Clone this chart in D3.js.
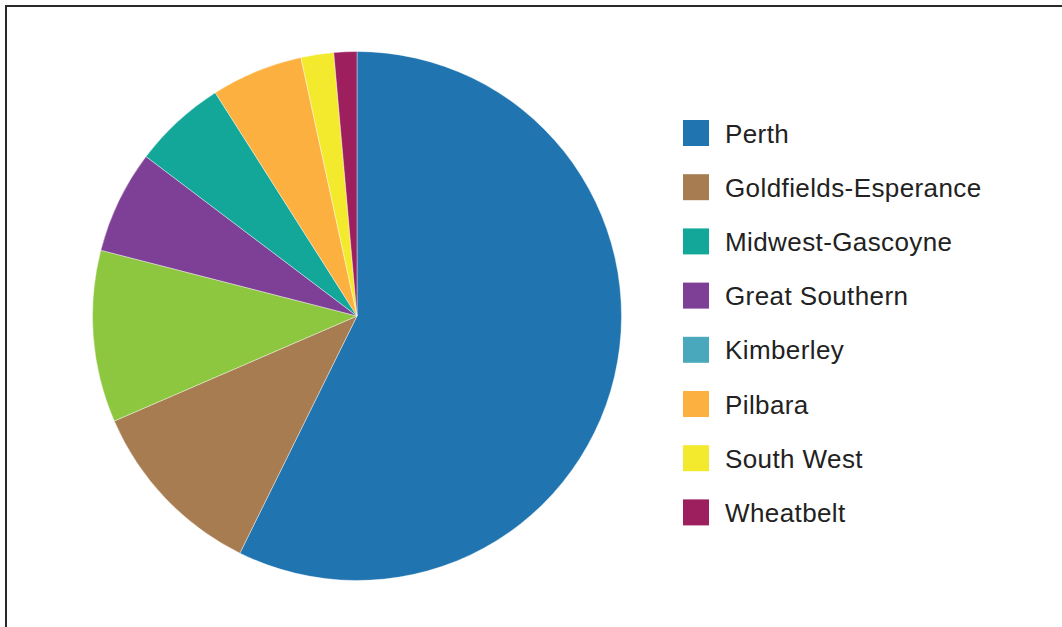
<!DOCTYPE html>
<html>
<head>
<meta charset="utf-8">
<script src="https://cdn.jsdelivr.net/npm/d3@7"></script>
<style>
  html, body { margin: 0; padding: 0; background: #fff; overflow: hidden; }
  svg { display: block; }
</style>
</head>
<body>
<svg id="chart" width="1062" height="627"></svg>
<script>
// Pie slices (clockwise from 12 o'clock), percent share
const sliceNames = ["Perth", "Goldfields-Esperance", "Other", "Great Southern", "Midwest-Gascoyne", "Pilbara", "South West", "Wheatbelt"];
const sliceValues = [57.3, 11.2, 10.5, 6.3, 5.7, 5.6, 2.0, 1.4];
const sliceColors = ["#2074b0", "#a87c51", "#8dc63f", "#7e3f96", "#13a79a", "#fbb040", "#f3ea2e", "#9e1f5e"];

// Legend entries
const legendNames = ["Perth", "Goldfields-Esperance", "Midwest-Gascoyne", "Great Southern", "Kimberley", "Pilbara", "South West", "Wheatbelt"];
const legendColors = ["#2074b0", "#a87c51", "#13a79a", "#7e3f96", "#4aa8bd", "#fbb040", "#f3ea2e", "#9e1f5e"];

const svg = d3.select("#chart");

// frame
svg.append("rect")
  .attr("x", 6).attr("y", 6)
  .attr("width", 1200).attr("height", 800)
  .attr("fill", "none")
  .attr("stroke", "#2a2a2a")
  .attr("stroke-width", 2);

const cx = 357, cy = 316, r = 264.5;
const data = sliceNames.map((n, i) => ({ name: n, value: sliceValues[i], color: sliceColors[i] }));

const pie = d3.pie().value(d => d.value).sort(null);
const arc = d3.arc().innerRadius(0).outerRadius(r);

svg.append("g")
  .attr("transform", `translate(${cx},${cy})`)
  .selectAll("path")
  .data(pie(data))
  .join("path")
  .attr("d", arc)
  .attr("fill", d => d.data.color)
  .attr("stroke", "#ffffff")
  .attr("stroke-width", 0.4);

const legend = svg.append("g").attr("transform", "translate(683,120)");
const rowH = 54.2;
const items = legend.selectAll("g")
  .data(legendNames.map((n, i) => ({ name: n, color: legendColors[i] })))
  .join("g")
  .attr("transform", (d, i) => `translate(0,${i * rowH})`);

items.append("rect")
  .attr("width", 26).attr("height", 26)
  .attr("fill", d => d.color);

items.append("text")
  .attr("x", 42).attr("y", 22.5)
  .attr("font-family", "'Liberation Sans', Arial, Helvetica, sans-serif")
  .attr("font-size", 26)
  .attr("letter-spacing", 0.4)
  .attr("fill", "#222")
  .text(d => d.name);
</script>
</body>
</html>
